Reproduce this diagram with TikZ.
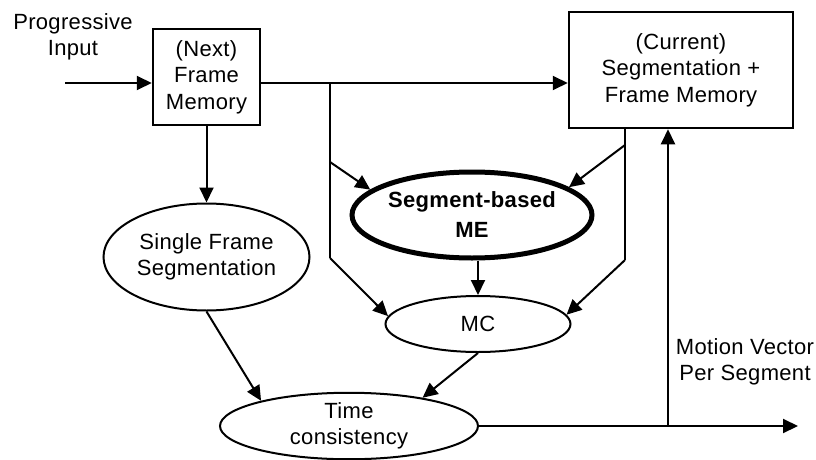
\documentclass[tikz,border=0pt]{standalone}
\usepackage{fontspec}
\setmainfont{Liberation Sans}[LetterSpace=1.5]
\usetikzlibrary{shapes.geometric,arrows.meta}
\begin{document}
\begin{tikzpicture}[x=1pt,y=-1pt,
  txt/.style={font=\fontsize{22}{26.5}\selectfont, align=center, inner sep=0pt},
  membox/.style={txt, draw, line width=2.5pt},
  oval/.style={txt, ellipse, draw, line width=2pt},
  link/.style={line width=2pt},
  arr/.style={link, -{Triangle[length=15pt,width=14pt]}},
]
\useasboundingbox (0,0) rectangle (816,460);

% blocks
\node[membox, minimum width=107pt, minimum height=96pt] (next) at (206.5,77) {(Next)\\Frame\\Memory};
\node[membox, minimum width=224pt, minimum height=116pt] (cur) at (681,70) {(Current)\\Segmentation +\\Frame Memory};
\node[oval, minimum width=206pt, minimum height=107pt] (sfs) at (206.5,257) {Single Frame\\Segmentation};
\node[oval, line width=5pt, minimum width=240pt, minimum height=86pt,
      font=\fontsize{22}{30}\selectfont\bfseries] (me) at (472,215) {Segment-based\\ME};
\node[oval, minimum width=185pt, minimum height=56pt] (mc) at (478,324) {MC};
\node[oval, minimum width=258pt, minimum height=66pt] (tc) at (349,426) {Time\\consistency};

% labels
\node[txt] (inlabel) at (73,37) {Progressive\\Input};
\node[txt] (mvlabel) at (745,362) {Motion Vector\\Per Segment};

% junction points
\coordinate (src) at (65,83);
\coordinate (jA) at (330,83);
\coordinate (jB) at (330,162);
\coordinate (jC) at (330,258);
\coordinate (jD) at (625,145);
\coordinate (jE) at (625,260);
\coordinate (jF) at (668,426);
\coordinate (out) at (798,426);

% connectors
\draw[arr] (src) -- (src -| next.west);
\draw[arr] (next.east |- jA) -- (cur.west |- jA);
\draw[link] (jA) -- (jC);
\draw[arr] (jC) -- (mc.175);
\draw[arr] (jB) -- (me.166);
\draw[link] (cur.south -| jE) -- (jE);
\draw[arr] (jE) -- (mc.6);
\draw[arr] (jD) -- (me.16);
\draw[arr] (next.south) -- (sfs.north);
\draw[arr] (sfs.south) -- (tc.164);
\draw[arr] (me.south -| mc.north) -- (mc.north);
\draw[arr] (mc.south) -- (tc.21);
\draw[arr] (tc.east) -- (out);
\draw[arr] (jF) -- (cur.south -| jF);
\end{tikzpicture}
\end{document}
